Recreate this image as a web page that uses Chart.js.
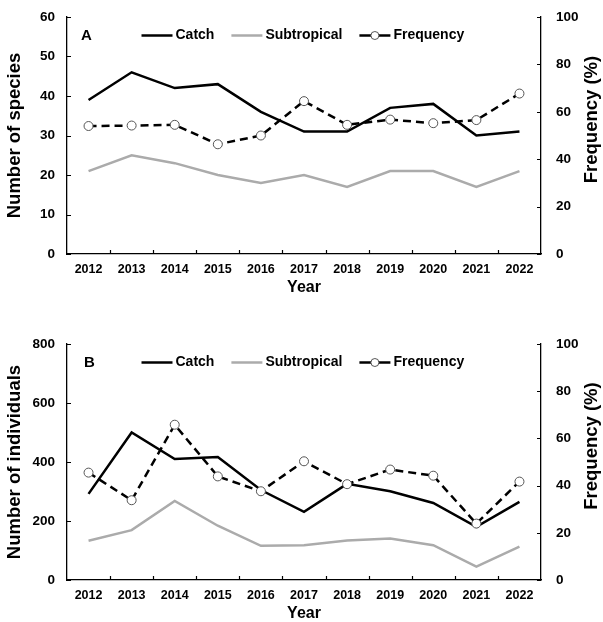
<!DOCTYPE html>
<html>
<head>
<meta charset="utf-8">
<script src="https://cdn.jsdelivr.net/npm/chart.js@4.4.1/dist/chart.umd.min.js"></script>
<style>
  body { margin: 0; background: #fff; }
  .panel { position: absolute; left: 0; width: 603px; }
  #panelA { top: 0; height: 297px; }
  #panelB { top: 327px; height: 296px; }
</style>
</head>
<body>
<div class="panel" id="panelA"><canvas id="chartA"></canvas></div>
<div class="panel" id="panelB"><canvas id="chartB"></canvas></div>
<script>
const FONT = '"Liberation Sans", Arial, sans-serif';

// ---- Data ----
const years = ['2012', '2013', '2014', '2015', '2016', '2017', '2018', '2019', '2020', '2021', '2022'];

// Panel A: number of species
const speciesCatch = [39, 46, 42, 43, 36, 31, 31, 37, 38, 30, 31];
const speciesSubtropical = [21, 25, 23, 20, 18, 20, 17, 21, 21, 17, 21];
const speciesFrequency = [54, 54.2, 54.5, 46.3, 50, 64.5, 54.5, 56.7, 55.2, 56.5, 67.7];

// Panel B: number of individuals
const individualsCatch = [292, 500, 410, 417, 305, 231, 326, 301, 261, 180, 265];
const individualsSubtropical = [133, 169, 268, 184, 116, 118, 134, 141, 118, 45, 113];
const individualsFrequency = [45.5, 33.8, 65.8, 43.9, 37.6, 50.3, 40.6, 46.8, 44.2, 23.9, 41.7];

// Tick labels
const speciesTicks = [0, 10, 20, 30, 40, 50, 60];
const individualsTicks = [0, 200, 400, 600, 800];
const frequencyTicks = [0, 20, 40, 60, 80, 100];

Chart.defaults.font.family = FONT;
Chart.defaults.font.weight = 'bold';
Chart.defaults.color = '#000';

// small tick marks pointing into the plot
const innerTicks = {
  id: 'innerTicks',
  afterDraw(chart) {
    const { ctx, chartArea: area, scales } = chart;
    const len = 4;
    ctx.save();
    ctx.strokeStyle = '#000';
    ctx.lineWidth = 1.2;
    ctx.beginPath();
    ['y', 'y1'].forEach(id => {
      const s = scales[id];
      const edge = id === 'y' ? area.left : area.right;
      const dir = id === 'y' ? 1 : -1;
      s.ticks.forEach(t => {
        const py = Math.round(s.getPixelForValue(t.value)) + 0.5;
        ctx.moveTo(edge, py);
        ctx.lineTo(edge + dir * len, py);
      });
    });
    const x = scales.x;
    for (let i = 1; i < chart.data.labels.length; i++) {
      const px = Math.round((x.getPixelForValue(i - 1) + x.getPixelForValue(i)) / 2) + 0.5;
      ctx.moveTo(px, area.bottom);
      ctx.lineTo(px, area.bottom - len);
    }
    ctx.stroke();
    ctx.restore();
  }
};

// panel letter + legend drawn inside the plot
const panelLegend = {
  id: 'panelLegend',
  afterDatasetsDraw(chart, args, opts) {
    const { ctx, chartArea: area } = chart;
    const y = area.top + 18.5;
    ctx.save();
    ctx.textBaseline = 'middle';
    ctx.fillStyle = '#000';
    ctx.font = `bold 15px ${FONT}`;
    ctx.fillText(opts.letter, opts.letterX, y);
    ctx.font = `bold 14px ${FONT}`;
    let x = opts.startX;
    chart.data.datasets.forEach(ds => {
      ctx.strokeStyle = ds.borderColor;
      ctx.lineWidth = ds.borderWidth;
      ctx.beginPath();
      ctx.moveTo(x, y);
      ctx.lineTo(x + 31, y);
      ctx.stroke();
      if (ds.pointRadius > 0) {
        ctx.beginPath();
        ctx.arc(x + 15.5, y, 4, 0, Math.PI * 2);
        ctx.fillStyle = ds.pointBackgroundColor;
        ctx.fill();
        ctx.lineWidth = ds.pointBorderWidth;
        ctx.strokeStyle = ds.pointBorderColor;
        ctx.stroke();
      }
      ctx.fillStyle = '#000';
      ctx.fillText(ds.label, x + 34, y);
      x += 34 + ctx.measureText(ds.label).width + 17;
    });
    ctx.restore();
  }
};

// right axis title reads bottom-to-top like the left one
const rightTitle = {
  id: 'rightTitle',
  afterDraw(chart, args, opts) {
    const { ctx, chartArea: area } = chart;
    ctx.save();
    ctx.translate(chart.width - 11, (area.top + area.bottom) / 2 - 16);
    ctx.rotate(-Math.PI / 2);
    ctx.font = `bold 18.5px ${FONT}`;
    ctx.fillStyle = '#000';
    ctx.textAlign = 'center';
    ctx.textBaseline = 'middle';
    ctx.fillText(opts.text, 0, 0);
    ctx.restore();
  }
};

// tick padding gets added to the vertical padding of y scales, undo that
function fitY(width) {
  return scale => {
    scale.width = width;
    scale.paddingTop = 8;
    scale.paddingBottom = 8;
  };
}

function makeChart(canvasId, letter, letterX, yTitle, yTicks, catchData, subData, freqData) {
  const ctx = document.getElementById(canvasId);
  return new Chart(ctx, {
    type: 'line',
    data: {
      labels: years,
      datasets: [
        {
          label: 'Catch',
          data: catchData,
          yAxisID: 'y',
          borderColor: '#000',
          borderWidth: 2.5,
          pointRadius: 0,
          tension: 0,
          order: 1
        },
        {
          label: 'Subtropical',
          data: subData,
          yAxisID: 'y',
          borderColor: '#ababab',
          borderWidth: 2.5,
          pointRadius: 0,
          tension: 0,
          order: 2
        },
        {
          label: 'Frequency',
          data: freqData,
          yAxisID: 'y1',
          borderColor: '#000',
          borderWidth: 2.5,
          borderDash: [8, 5],
          pointRadius: 4.5,
          pointBackgroundColor: '#fff',
          pointBorderColor: '#555',
          pointBorderWidth: 1,
          tension: 0,
          order: 0
        }
      ]
    },
    options: {
      responsive: true,
      maintainAspectRatio: false,
      animation: false,
      devicePixelRatio: 1,
      layout: { padding: { top: 17, left: 0, right: 0, bottom: 0 } },
      plugins: {
        legend: { display: false },
        tooltip: { enabled: false },
        panelLegend: { letter: letter, letterX: letterX, startX: 141.5 },
        rightTitle: { text: 'Frequency (%)' }
      },
      scales: {
        x: {
          offset: true,
          grid: { display: false, drawTicks: false },
          border: { display: true, color: '#000', width: 1.3 },
          ticks: { font: { size: 12.5 }, padding: 8, maxRotation: 0, autoSkip: false },
          title: { display: true, text: 'Year', font: { size: 16 }, padding: 0 },
          afterFit(scale) { scale.height = 43; }
        },
        y: {
          position: 'left',
          min: yTicks[0],
          max: yTicks[yTicks.length - 1],
          ticks: { stepSize: yTicks[1] - yTicks[0], font: { size: 13.5 }, padding: 12 },
          grid: { display: false, drawTicks: false },
          border: { display: true, color: '#000', width: 1.3 },
          title: { display: true, text: yTitle, font: { size: 18.5 }, padding: { top: 4, bottom: 0 } },
          afterFit: fitY(67)
        },
        y1: {
          position: 'right',
          min: frequencyTicks[0],
          max: frequencyTicks[frequencyTicks.length - 1],
          ticks: { stepSize: frequencyTicks[1] - frequencyTicks[0], font: { size: 13.5 }, padding: 15 },
          grid: { display: false, drawTicks: false },
          border: { display: true, color: '#000', width: 1.3 },
          afterFit: fitY(62)
        }
      }
    },
    plugins: [innerTicks, panelLegend, rightTitle]
  });
}

makeChart('chartA', 'A', 81, 'Number of species', speciesTicks,
  speciesCatch, speciesSubtropical, speciesFrequency);
makeChart('chartB', 'B', 84, 'Number of individuals', individualsTicks,
  individualsCatch, individualsSubtropical, individualsFrequency);
</script>
</body>
</html>
